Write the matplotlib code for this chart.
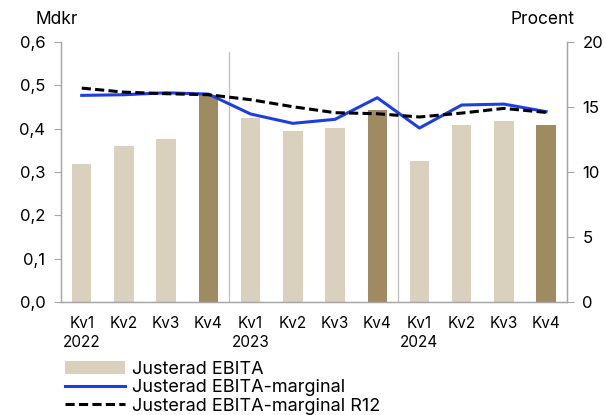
import matplotlib.pyplot as plt
from matplotlib.patches import Patch
from matplotlib.lines import Line2D

plt.rcParams['font.family'] = ['Inter', 'DejaVu Sans']

# data
quarters = ['Kv1', 'Kv2', 'Kv3', 'Kv4'] * 3
years = ['2022', '', '', '', '2023', '', '', '', '2024', '', '', '']
ebita = [0.319, 0.359, 0.376, 0.478, 0.425, 0.394, 0.401, 0.442, 0.326, 0.409, 0.417, 0.409]
margin = [15.89, 15.94, 16.09, 15.99, 14.46, 13.74, 14.05, 15.71, 13.38, 15.15, 15.22, 14.64]
margin_r12 = [16.45, 16.14, 16.02, 15.94, 15.56, 15.02, 14.56, 14.48, 14.23, 14.53, 14.89, 14.58]

light = '#D9D0BE'
dark = '#A08A62'
blue = '#1E3FE0'
grey = '#A6A6A6'

fig = plt.figure(figsize=(6.06, 4.15), dpi=100)
ax = fig.add_axes([0.10, 0.272, 0.836, 0.627])
ax2 = ax.twinx()

x = list(range(len(ebita)))
colors = [dark if q == 'Kv4' else light for q in quarters]
ax.bar(x, ebita, width=0.46, color=colors, zorder=2)

# year separators
for sep in [3.5, 7.5]:
    ax.axvline(sep, ymin=0, ymax=0.963, color='#BFBFBF', lw=0.9, zorder=1)

ax2.plot(x, margin, color=blue, lw=2.2, zorder=3)
ax2.plot(x, margin_r12, color='black', lw=2.2, ls=(0, (3.0, 1.4)), zorder=4)

ax.set_xlim(-0.5, 11.5)
ax.set_ylim(0, 0.6)
ax2.set_ylim(0, 20)
ax.set_yticks([0, 0.1, 0.2, 0.3, 0.4, 0.5, 0.6])
ax.set_yticklabels(['0,0', '0,1', '0,2', '0,3', '0,4', '0,5', '0,6'], fontsize=12)
ax2.set_yticks([0, 5, 10, 15, 20])
ax2.set_yticklabels(['0', '5', '10', '15', '20'], fontsize=12)

labels = [q + ('\n' + y if y else '\n') for q, y in zip(quarters, years)]
ax.set_xticks(x)
ax.set_xticklabels(labels, fontsize=11, linespacing=1.35)
ax.tick_params(axis='x', length=0, pad=10)
ax.tick_params(axis='y', length=5, color=grey, pad=6)
ax2.tick_params(axis='y', length=5, color=grey, pad=6)

for a in (ax, ax2):
    a.spines['top'].set_visible(False)
    for s in ('left', 'right', 'bottom'):
        a.spines[s].set_color(grey)
        a.spines[s].set_linewidth(0.9)

fig.text(0.058, 0.953, 'Mdkr', fontsize=12.5, ha='left', va='center')
fig.text(0.948, 0.953, 'Procent', fontsize=12.5, ha='right', va='center')

handles = [
    Patch(facecolor=light, edgecolor='none'),
    Line2D([], [], color=blue, lw=2.2),
    Line2D([], [], color='black', lw=2.2, ls=(0, (3.0, 1.4))),
]
names = ['Justerad EBITA', 'Justerad EBITA-marginal', 'Justerad EBITA-marginal R12']
fig.legend(handles, names, loc='upper left', bbox_to_anchor=(0.108, 0.13),
           frameon=False, fontsize=13, handlelength=3.3, handleheight=0.75,
           labelspacing=0.08, handletextpad=0.4, borderaxespad=0, borderpad=0)

fig.savefig('out.png', dpi=100)
